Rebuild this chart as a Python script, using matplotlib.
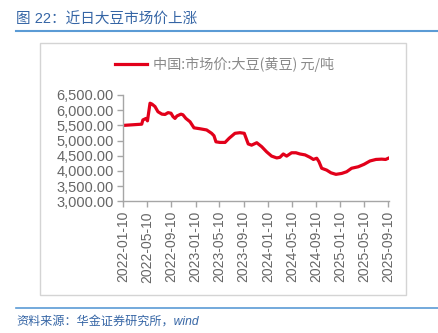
import matplotlib
matplotlib.use("Agg")
import matplotlib.pyplot as plt
from matplotlib.patches import Rectangle
from matplotlib.lines import Line2D
import numpy as np

plt.rcParams['font.family'] = ['Liberation Sans', 'Noto Sans CJK SC', 'DejaVu Sans']

# Soybean market price, CNY/ton
dates = [
    "2022-01-10", "2022-04-13", "2022-04-19", "2022-05-05", "2022-05-12", "2022-05-25",
    "2022-06-04", "2022-06-19", "2022-07-04", "2022-07-24", "2022-08-09", "2022-08-24",
    "2022-09-08", "2022-09-18", "2022-09-28", "2022-10-08", "2022-10-28", "2022-11-07",
    "2022-11-22", "2022-12-13", "2023-01-02", "2023-02-01", "2023-03-07", "2023-04-01",
    "2023-04-13", "2023-04-23", "2023-05-13", "2023-06-08", "2023-06-29", "2023-07-28",
    "2023-08-22", "2023-09-13", "2023-10-03", "2023-10-20", "2023-11-15", "2023-12-10",
    "2024-01-04", "2024-01-29", "2024-02-24", "2024-03-11", "2024-03-28", "2024-04-14",
    "2024-05-09", "2024-05-31", "2024-06-20", "2024-07-16", "2024-08-10", "2024-08-27",
    "2024-09-13", "2024-09-24", "2024-10-08", "2024-11-02", "2024-11-24", "2024-12-19",
    "2025-01-17", "2025-02-11", "2025-03-08", "2025-04-11", "2025-05-10", "2025-06-09",
    "2025-07-09", "2025-08-07", "2025-08-27", "2025-09-13",
]
prices = [
    5500, 5540, 5680, 5730, 5650, 6230,
    6200, 6120, 5950, 5870, 5860, 5920,
    5900, 5790, 5730, 5810, 5870, 5850,
    5730, 5620, 5420, 5390, 5350, 5240,
    5160, 4960, 4940, 4940, 5080, 5240,
    5260, 5240, 4890, 4850, 4930, 4800,
    4630, 4490, 4430, 4450, 4560, 4490,
    4600, 4600, 4560, 4530, 4450, 4380,
    4420, 4310, 4090, 4030, 3940, 3890,
    3920, 3975, 4090, 4140, 4220, 4330,
    4380, 4390, 4380, 4430,
]
tick_dates = [
    "2022-01-10", "2022-05-10", "2022-09-10", "2023-01-10", "2023-05-10", "2023-09-10",
    "2024-01-10", "2024-05-10", "2024-09-10", "2025-01-10", "2025-05-10", "2025-09-10",
]
y_ticks = [3000, 3500, 4000, 4500, 5000, 5500, 6000, 6500]

title = "图 22：近日大豆市场价上涨"
series_name = "中国:市场价:大豆(黄豆) 元/吨"
source = "资料来源：华金证券研究所，wind"

W, H = 438, 333
fig = plt.figure(figsize=(W / 100, H / 100), dpi=100)
fig.patch.set_facecolor("white")

def fx(px):
    return px / W

def fy(py):
    return 1 - py / H

# Title and separator rules
fig.text(fx(16), fy(20), title, fontsize=10.5, color="#3565a5",
         family=['Liberation Sans', 'Noto Sans CJK SC'], va="center", ha="left")
fig.add_artist(Line2D([fx(16), 1], [fy(31), fy(31)], color="#5b9bd5", lw=1.5))
fig.add_artist(Line2D([fx(16), 1], [fy(308), fy(308)], color="#5b9bd5", lw=1.2))
fig.text(fx(16), fy(322), source, fontsize=8.7, color="#3565a5", style="italic",
         family=['Liberation Sans', 'Noto Sans CJK SC'], va="center", ha="left")

# Light frame around the chart area
fig.add_artist(Rectangle((fx(40), fy(295)), fx(406) - fx(40), fy(43) - fy(295),
                         fill=False, edgecolor="#d4d4d4", lw=1.0))

x = np.array(dates, dtype="datetime64[D]")
xt = np.array(tick_dates, dtype="datetime64[D]")

ax = fig.add_axes([fx(123.3), fy(201.4), fx(389) - fx(123.3), fy(95) - fy(201.4)])
ax.plot(x, prices, color="#e2001a", lw=2.3, solid_joinstyle="round")

ax.set_xlim(x[0], x[-1])
ax.set_ylim(3000, 6500)
ax.set_yticks(y_ticks)
ax.set_yticklabels([f"{v:,.2f}" for v in y_ticks])
ax.set_xticks(xt)
ax.set_xticklabels(tick_dates, rotation=90)

for s in ("top", "right"):
    ax.spines[s].set_visible(False)
for s in ("left", "bottom"):
    ax.spines[s].set_color("#a6a6a6")
    ax.spines[s].set_linewidth(1.0)
ax.tick_params(axis="both", colors="#a6a6a6", length=4, width=1.0, direction="out")
ax.tick_params(axis="y", labelcolor="#666666", labelsize=10.5, pad=3)
ax.tick_params(axis="x", labelcolor="#666666", labelsize=10, pad=3)

# Legend
fig.add_artist(Line2D([fx(115), fx(147)], [fy(64), fy(64)], color="#e2001a", lw=2.3))
fig.text(fx(153), fy(64), series_name, fontsize=10.2, color="#8a8a8a",
         family=['Noto Sans CJK SC', 'DejaVu Sans'], va="center", ha="left")

fig.savefig("out.png", dpi=100, facecolor="white")
